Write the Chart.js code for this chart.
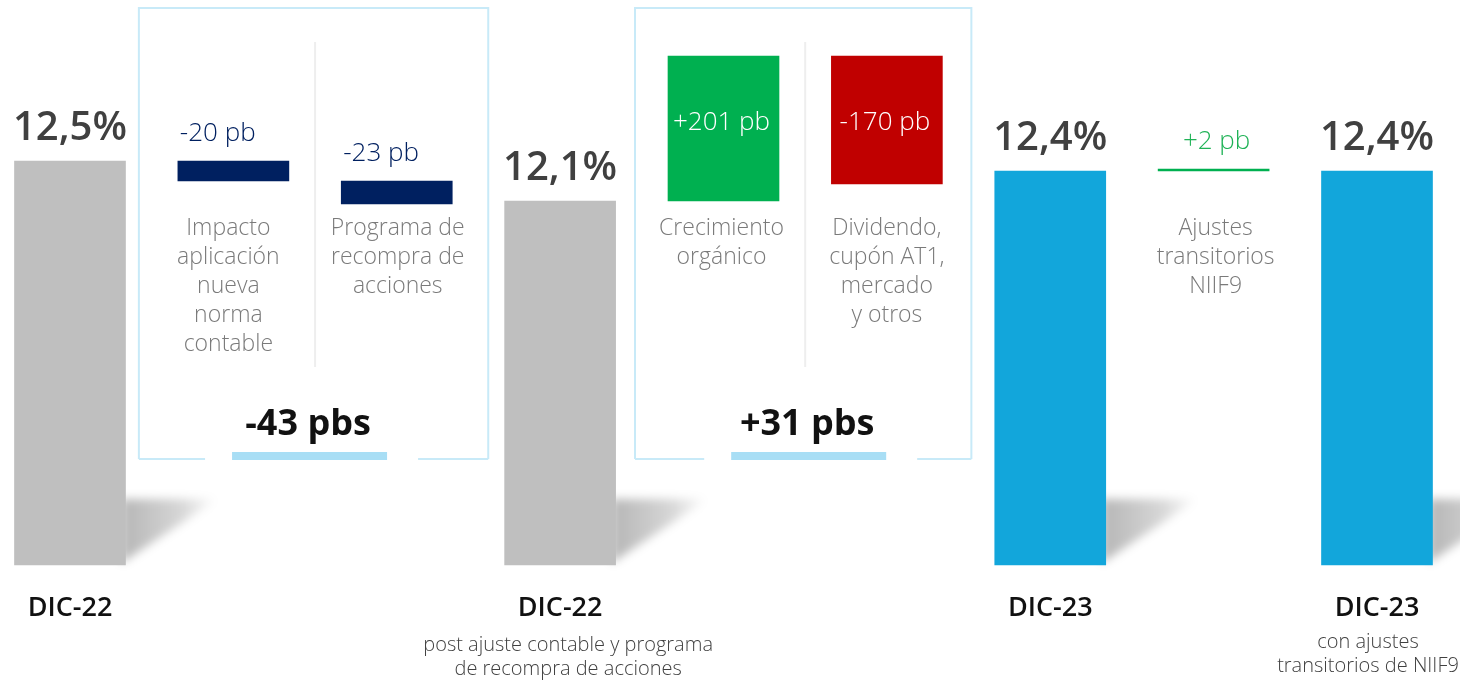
<!DOCTYPE html>
<html>
<head>
<meta charset="utf-8">
<script src="https://cdn.jsdelivr.net/npm/chart.js@4"></script>
<style>
  html, body { margin: 0; padding: 0; background: #fff; }
  #wrap { width: 1460px; height: 680px; }
</style>
</head>
<body>
<div id="wrap"><canvas id="chart"></canvas></div>
<script>
// totals (capital ratio, %)
var totalPos = [0, 3, 6, 8];
var totalValues = [12.5, 12.1, 12.4, 12.4];
var totalText = ['12,5%', '12,1%', '12,4%', '12,4%'];
var totalNames = ['DIC-22', 'DIC-22', 'DIC-23', 'DIC-23'];
var totalNotes = [[], ['post ajuste contable y programa', 'de recompra de acciones'], [], ['con ajustes', 'transitorios de NIIF9']];

// movements between totals (floating bars, as drawn in the picture)
var stepPos = [1, 2, 4, 5, 7];
var stepFrom = [12.5, 12.3, 12.1, 13.55, 12.4];
var stepTo = [12.3, 12.07, 13.55, 12.27, 12.42];
var stepText = ['-20 pb', '-23 pb', '+201 pb', '-170 pb', '+2 pb'];
var stepNames = [
    ['Impacto', 'aplicación', 'nueva', 'norma', 'contable'],
    ['Programa de', 'recompra de', 'acciones'],
    ['Crecimiento', 'orgánico'],
    ['Dividendo,', 'cupón AT1,', 'mercado', 'y otros'],
    ['Ajustes', 'transitorios', 'NIIF9']
];

// grouped subtotals
var groupFrom = [1, 4];
var groupTo = [2, 5];
var groupText = ['-43 pbs', '+31 pbs'];

var axisBase = 8.46;

var FONT = '"Open Sans", "Noto Sans", sans-serif';
var totalColors = ['#bfbfbf', '#bfbfbf', '#12a6db', '#12a6db'];
var noteShift = [0, 8, 0, -9];
var stepColors = ['#002060', '#002060', '#00b050', '#c00000', '#00b050'];
var stepInside = [false, false, true, true, false];
var stepTextColors = ['#002060', '#002060', '#ffffff', '#ffffff', '#1fb256'];
var descShift = [-5, 1, -2, 0, 2];
var boxPadL = [39, 33];
var boxPadR = [36, 29];
var groupShift = [-5, 4];

var shadowPlugin = {
    id: 'shadows',
    beforeDatasetsDraw: function (chart) {
        var ctx = chart.ctx;
        var meta = chart.getDatasetMeta(0);
        meta.data.forEach(function (bar) {
            var r = bar.x + bar.width / 2;
            var b = bar.base;
            ctx.save();
            ctx.filter = 'blur(5px)';
            var g = ctx.createLinearGradient(r, 0, r + 92, 0);
            g.addColorStop(0, 'rgba(0,0,0,0.28)');
            g.addColorStop(0.6, 'rgba(0,0,0,0.16)');
            g.addColorStop(1, 'rgba(0,0,0,0.0)');
            ctx.fillStyle = g;
            ctx.beginPath();
            ctx.moveTo(r - 4, b - 66);
            ctx.lineTo(r + 92, b - 66);
            ctx.lineTo(r - 4, b - 2);
            ctx.closePath();
            ctx.fill();
            ctx.restore();
        });
    }
};

var decoPlugin = {
    id: 'deco',
    afterDatasetsDraw: function (chart) {
        var ctx = chart.ctx;
        var totals = chart.getDatasetMeta(0).data;
        var steps = chart.getDatasetMeta(1).data;
        ctx.save();
        ctx.textAlign = 'center';
        ctx.textBaseline = 'alphabetic';

        // bracket boxes
        for (var g = 0; g < groupFrom.length; g++) {
            var b1 = steps[stepPos.indexOf(groupFrom[g])];
            var b2 = steps[stepPos.indexOf(groupTo[g])];
            var left = b1.x - b1.width / 2 - boxPadL[g];
            var right = b2.x + b2.width / 2 + boxPadR[g];
            var dx = (b1.x + b2.x) / 2;
            var mid = dx + groupShift[g];
            var top = 8, bottom = 459;
            ctx.strokeStyle = '#c8eaf8';
            ctx.lineWidth = 2;
            ctx.beginPath();
            ctx.moveTo(left, bottom);
            ctx.lineTo(left, top);
            ctx.lineTo(right, top);
            ctx.lineTo(right, bottom);
            ctx.moveTo(left, bottom);
            ctx.lineTo(mid - 105, bottom);
            ctx.moveTo(mid + 108, bottom);
            ctx.lineTo(right, bottom);
            ctx.stroke();
            ctx.fillStyle = '#a8def5';
            ctx.fillRect(mid - 78, 452, 155, 8);
            // divider between the two movements
            ctx.strokeStyle = '#eeeeee';
            ctx.beginPath();
            ctx.moveTo(dx, 42);
            ctx.lineTo(dx, 367);
            ctx.stroke();
            ctx.fillStyle = '#111111';
            ctx.font = 'bold 36px ' + FONT;
            ctx.fillText(groupText[g], mid - 2, 435);
        }

        // totals
        totals.forEach(function (bar, i) {
            ctx.fillStyle = '#404040';
            ctx.font = '600 40px ' + FONT;
            ctx.fillText(totalText[i], bar.x, bar.y - 21);
            ctx.fillStyle = '#111111';
            ctx.font = '600 27px ' + FONT;
            ctx.fillText(totalNames[i], bar.x, 616);
            ctx.fillStyle = '#404040';
            ctx.font = '300 20px ' + FONT;
            totalNotes[i].forEach(function (line, k) {
                ctx.fillText(line, bar.x + noteShift[i], (i === 3 ? 648 : 651) + k * 24);
            });
        });

        // movements
        steps.forEach(function (bar, i) {
            var top = Math.min(bar.y, bar.base);
            ctx.fillStyle = stepTextColors[i];
            ctx.font = '300 26px ' + FONT;
            if (stepInside[i]) {
                ctx.fillText(stepText[i], bar.x - 2, top + 74);
            } else if (i < 2) {
                ctx.textAlign = 'left';
                ctx.fillText(stepText[i], bar.x - bar.width / 2 + 2, top - 20);
                ctx.textAlign = 'center';
            } else {
                ctx.fillText(stepText[i], bar.x + 3, top - 20);
            }
            ctx.fillStyle = '#7a7a7a';
            ctx.font = '300 23px ' + FONT;
            stepNames[i].forEach(function (line, k) {
                ctx.fillText(line, bar.x + descShift[i], 235 + k * 29);
            });
        });
        ctx.restore();
    }
};

var ctx = document.getElementById('chart').getContext('2d');
var chart = new Chart(ctx, {
    type: 'bar',
    data: {
        datasets: [{
            label: 'Totales',
            data: totalPos.map(function (p, i) { return { x: p, y: [axisBase, totalValues[i]] }; }),
            backgroundColor: totalColors,
            barThickness: 111,
            grouped: false
        }, {
            label: 'Movimientos',
            data: stepPos.map(function (p, i) { return { x: p, y: [stepFrom[i], stepTo[i]] }; }),
            backgroundColor: stepColors,
            barThickness: 111,
            grouped: false
        }]
    },
    options: {
        responsive: true,
        maintainAspectRatio: false,
        animation: false,
        layout: { padding: 0 },
        plugins: {
            legend: { display: false },
            tooltip: { enabled: false }
        },
        scales: {
            x: { type: 'linear', min: -0.42846, max: 8.50804, offset: false, display: false },
            y: { min: 7.31, max: 14.11, display: false }
        }
    },
    plugins: [shadowPlugin, decoPlugin]
});
</script>
</body>
</html>
